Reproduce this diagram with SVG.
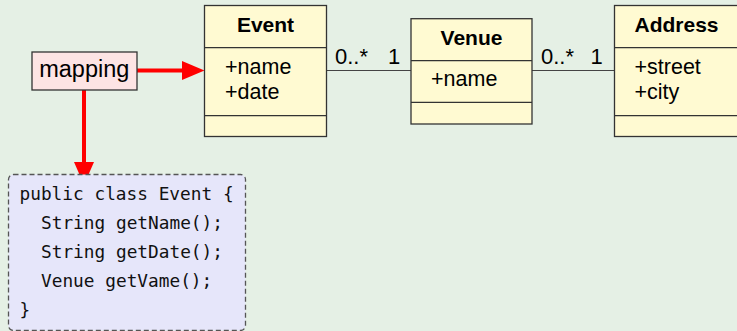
<svg xmlns="http://www.w3.org/2000/svg" width="737" height="331" viewBox="0 0 737 331">
  <defs>
    <style>
      .cls { fill: #fffad2; stroke: #333; stroke-width: 1.3; }
      .div { stroke: #333; stroke-width: 1.3; fill: none; }
      .title { font-family: "Liberation Sans", Arial, sans-serif; font-size: 21px; font-weight: bold; fill: #000; text-anchor: middle; }
      .attr { font-family: "Liberation Sans", Arial, sans-serif; font-size: 21.5px; fill: #000; }
      .mult { font-family: "Liberation Sans", Arial, sans-serif; font-size: 22px; fill: #000; }
      .assoc { stroke: #444; stroke-width: 1.2; fill: none; }
      .red { stroke: #ff0000; stroke-width: 4; fill: none; }
      .code { font-family: "DejaVu Sans Mono", monospace; font-size: 17.8px; fill: #111; }
    </style>
  </defs>

  <rect width="737" height="331" fill="#e5f0e5"/>

  <!-- associations -->
  <g id="connectors">
    <line class="assoc" x1="326.5" y1="70.5" x2="411" y2="70.5"/>
    <line class="assoc" x1="532" y1="70.5" x2="614" y2="70.5"/>
    <text class="mult" x="335" y="63.5">0..*</text>
    <text class="mult" x="388" y="63.5">1</text>
    <text class="mult" x="541" y="63.5">0..*</text>
    <text class="mult" x="590.5" y="63.5">1</text>
    <!-- mapping arrows -->
    <line class="red" x1="137" y1="70.5" x2="184" y2="70.5"/>
    <polygon points="182,61 204.5,70.5 182,80" fill="#ff0000"/>
    <line class="red" x1="84" y1="90" x2="84" y2="164"/>
    <polygon points="74,162 94,162 84,185" fill="#ff0000"/>
  </g>

  <g id="event">
    <rect class="cls" x="204.5" y="5.5" width="122" height="131"/>
    <line class="div" x1="204.5" y1="47.7" x2="326.5" y2="47.7"/>
    <line class="div" x1="204.5" y1="115.7" x2="326.5" y2="115.7"/>
    <text class="title" x="265.5" y="31.5">Event</text>
    <text class="attr" x="225" y="74">+name</text>
    <text class="attr" x="225" y="99">+date</text>
  </g>

  <g id="venue">
    <rect class="cls" x="411" y="18.7" width="121" height="105.3"/>
    <line class="div" x1="411" y1="60.7" x2="532" y2="60.7"/>
    <line class="div" x1="411" y1="102.3" x2="532" y2="102.3"/>
    <text class="title" x="471.5" y="45">Venue</text>
    <text class="attr" x="431" y="86">+name</text>
  </g>

  <g id="address">
    <rect class="cls" x="614.5" y="5.5" width="130" height="131"/>
    <line class="div" x1="614.5" y1="47.7" x2="744" y2="47.7"/>
    <line class="div" x1="614.5" y1="115.7" x2="744" y2="115.7"/>
    <text class="title" x="676.5" y="31.5">Address</text>
    <text class="attr" x="634.5" y="74">+street</text>
    <text class="attr" x="634.5" y="99">+city</text>
  </g>

  <g id="mapping">
    <rect x="32" y="52" width="105" height="38" fill="#fde4e4" stroke="#333" stroke-width="1.3"/>
    <text class="attr" x="84.3" y="76.7" text-anchor="middle" style="font-size:23.5px">mapping</text>
  </g>

  <g id="code">
    <rect x="8.5" y="174.5" width="237" height="156" rx="5" ry="5" fill="#e6e6fa" stroke="#555" stroke-width="1.3" stroke-dasharray="5,3"/>
    <text class="code" x="19.5" y="200">public class Event {</text>
    <text class="code" x="41" y="229">String getName();</text>
    <text class="code" x="41" y="258">String getDate();</text>
    <text class="code" x="41" y="287">Venue getVame();</text>
    <text class="code" x="19.5" y="316">}</text>
  </g>
</svg>
